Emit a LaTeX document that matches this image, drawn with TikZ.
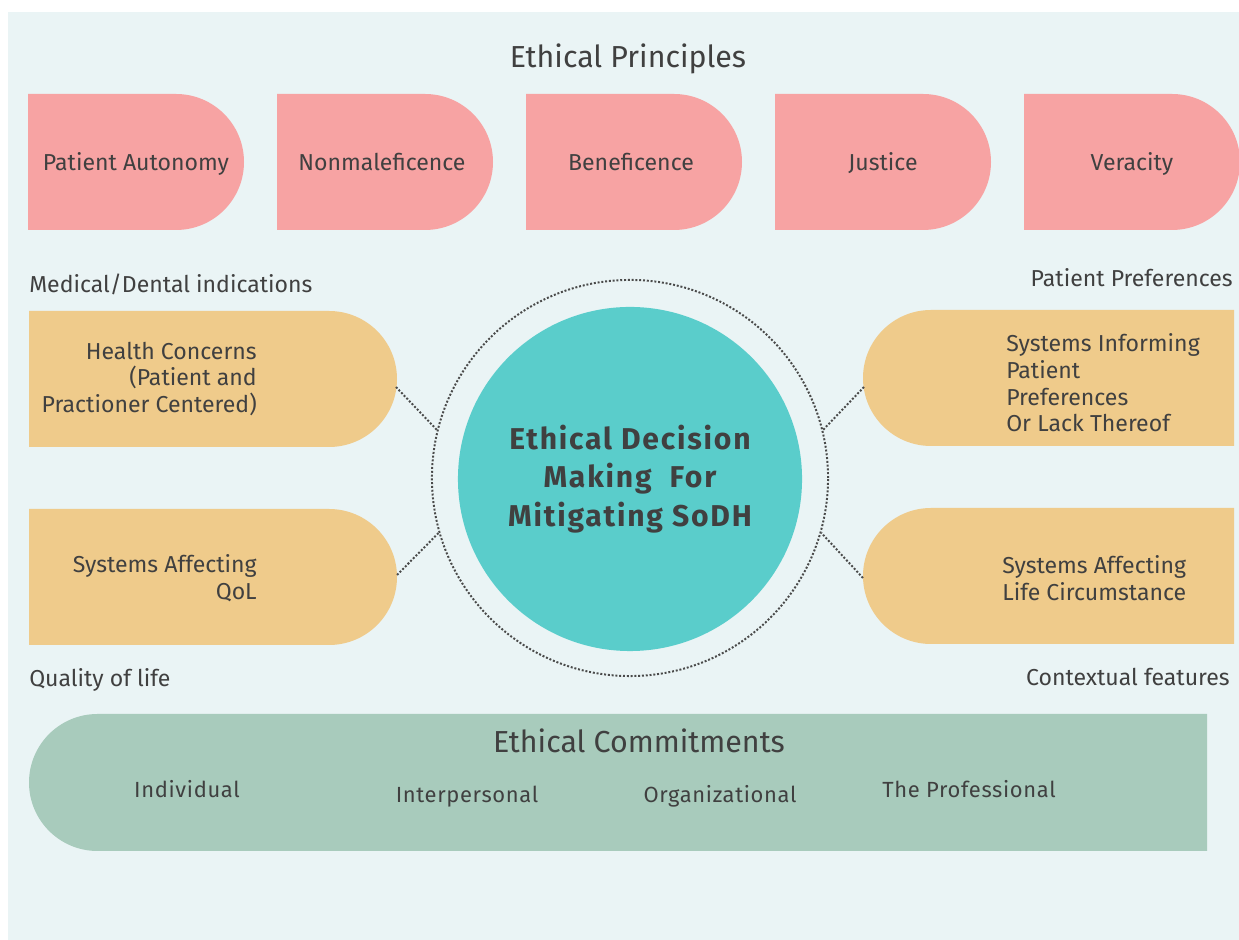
\documentclass[tikz,border=0pt]{standalone}
\usepackage{fontspec}
\setmainfont{Fira Sans}
\usepackage{tikz}
\def\halfbox{68}
\def\bodysize{\fontsize{16.4}{19}\selectfont}
\def\headsize{\fontsize{21.6}{25}\selectfont}
\def\smallsize{\fontsize{15.6}{18}\selectfont\addfontfeatures{LetterSpace=3}}
\def\coresize{\fontsize{21.4}{27.4}\selectfont\addfontfeatures{LetterSpace=6}}
\definecolor{paneblue}{HTML}{EAF4F5}
\definecolor{principlepink}{HTML}{F7A3A3}
\definecolor{factortan}{HTML}{EFCB8B}
\definecolor{centerteal}{HTML}{5ACDCB}
\definecolor{commitgreen}{HTML}{A8CBBC}
\definecolor{textgrey}{HTML}{404040}
\definecolor{dotgrey}{HTML}{4A4A4A}

\begin{document}
\begin{tikzpicture}[x = 0.025cm, y = 0.025cm,
        plaintext/.style = {text=textgrey, inner sep=0pt, font=\bodysize},
        headtext/.style = {text=textgrey, inner sep=0pt, font=\headsize},
        smalltext/.style = {text=textgrey, inner sep=0pt, font=\smallsize},
        dotlink/.style = {line width=1.4pt, draw=dotgrey, dash pattern=on 1.4pt off 1.3pt}]

            \useasboundingbox (0,0) rectangle (1239,940);
            \fill[white] (0,0) rectangle (1239,940);
            \fill[paneblue] (8,0) rectangle (1239,928);

            % principles row
            \node[headtext, anchor=base] (principles) at (628,872) {Ethical Principles};

            \fill[principlepink] (28,710) -- (176,710) arc[start angle=-90, end angle=90, radius=\halfbox] -- (28,846) -- cycle;
            \fill[principlepink] (277,710) -- (425,710) arc[start angle=-90, end angle=90, radius=\halfbox] -- (277,846) -- cycle;
            \fill[principlepink] (526,710) -- (674,710) arc[start angle=-90, end angle=90, radius=\halfbox] -- (526,846) -- cycle;
            \fill[principlepink] (775,710) -- (923,710) arc[start angle=-90, end angle=90, radius=\halfbox] -- (775,846) -- cycle;
            \fill[principlepink] (1024,710) -- (1172,710) arc[start angle=-90, end angle=90, radius=\halfbox] -- (1024,846) -- cycle;

            \node[plaintext, anchor=base] (autonomy) at (136,769) {Patient Autonomy};
            \node[plaintext, anchor=base] (nonmal) at (382,769) {Nonmaleficence};
            \node[plaintext, anchor=base] (benef) at (631,769) {Beneficence};
            \node[plaintext, anchor=base] (justice) at (883,769) {Justice};
            \node[plaintext, anchor=base] (veracity) at (1132,769) {Veracity};

            % four factor boxes
            \node[plaintext, anchor=base west] (medical) at (29,647) {Medical/Dental indications};
            \node[plaintext, anchor=base east] (preferences) at (1233,653) {Patient Preferences};
            \node[plaintext, anchor=base west] (quality) at (29,253) {Quality of life};
            \node[plaintext, anchor=base east] (contextual) at (1230,254) {Contextual features};

            \fill[factortan] (29,493) -- (329,493) arc[start angle=-90, end angle=90, radius=\halfbox] -- (29,629) -- cycle;
            \fill[factortan] (29,295) -- (329,295) arc[start angle=-90, end angle=90, radius=\halfbox] -- (29,431) -- cycle;
            \fill[factortan] (1234,630) -- (931,630) arc[start angle=90, end angle=270, radius=\halfbox] -- (1234,494) -- cycle;
            \fill[factortan] (1234,432) -- (931,432) arc[start angle=90, end angle=270, radius=\halfbox] -- (1234,296) -- cycle;

            \node[plaintext, align=right, anchor=east] (health) at (257,561) {Health Concerns\\(Patient and\\Practioner Centered)};
            \node[plaintext, align=right, anchor=east] (qol) at (257,362) {Systems Affecting\\QoL};
            \node[plaintext, align=left, anchor=west] (informing) at (1006,557) {Systems Informing\\Patient\\Preferences\\Or Lack Thereof};
            \node[plaintext, align=left, anchor=west] (circumstance) at (1002,362) {Systems Affecting\\Life Circumstance};

            \coordinate (health-tip) at (396,553);
            \coordinate (qol-tip) at (397,365);
            \coordinate (informing-tip) at (864,553);
            \coordinate (circumstance-tip) at (863,362);

            % centre
            \node[circle, dotlink, minimum size=9.9cm, inner sep=0pt] (ring) at (630,462) {};
            \node[circle, fill=centerteal, minimum size=8.6cm, inner sep=0pt, text=textgrey, font=\coresize\bfseries, align=center] (core) at (630,461) {Ethical Decision\\Making~ For\\Mitigating SoDH};

            \draw[dotlink] (health-tip) -- (ring.166);
            \draw[dotlink] (qol-tip) -- (ring.196);
            \draw[dotlink] (informing-tip) -- (ring.14);
            \draw[dotlink] (circumstance-tip) -- (ring.344);

            % commitments band
            \fill[commitgreen] (1207,226) -- (97.5,226) arc[start angle=90, end angle=270, radius=68.5] -- (1207,89) -- cycle;

            \node[headtext, anchor=base] (commitments) at (639,187) {Ethical Commitments};
            \node[smalltext, anchor=base] (individual) at (187,142) {Individual};
            \node[smalltext, anchor=base] (interpersonal) at (467,137) {Interpersonal};
            \node[smalltext, anchor=base] (organizational) at (720,137) {Organizational};
            \node[smalltext, anchor=base] (professional) at (969,142) {The Professional};

        \end{tikzpicture}
\end{document}
